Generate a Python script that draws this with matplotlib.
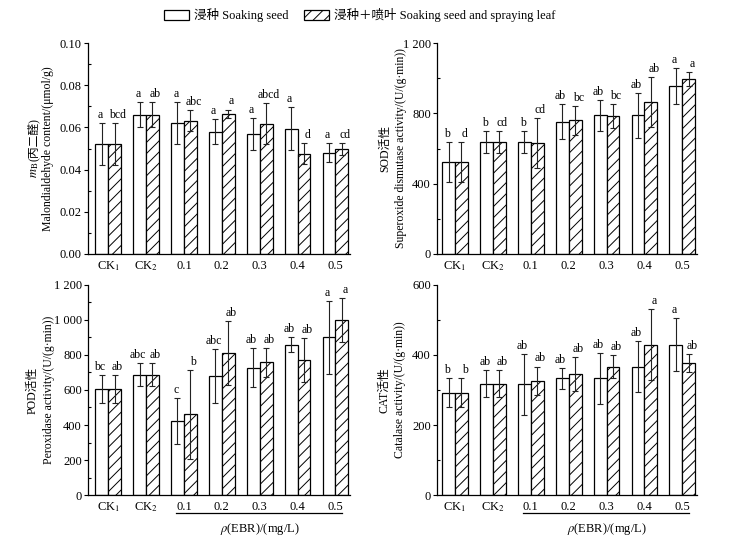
import matplotlib
matplotlib.use("Agg")
import matplotlib.pyplot as plt
import matplotlib.transforms as mtransforms
from matplotlib.ticker import MultipleLocator, FuncFormatter
import numpy as np

plt.rcParams['font.family'] = ['Liberation Serif', 'Noto Sans CJK SC', 'DejaVu Sans']
plt.rcParams['mathtext.fontset'] = 'stix'
plt.rcParams['hatch.linewidth'] = 0.7
plt.rcParams['axes.unicode_minus'] = False

groups = ['CK$_1$', 'CK$_2$', '0.1', '0.2', '0.3', '0.4', '0.5']

mda_soak = [0.052, 0.066, 0.062, 0.058, 0.057, 0.0595, 0.048]
mda_soak_err = [0.010, 0.006, 0.010, 0.006, 0.0075, 0.010, 0.0046]
mda_spray = [0.052, 0.066, 0.0633, 0.0665, 0.0617, 0.0475, 0.0497]
mda_spray_err = [0.010, 0.006, 0.005, 0.002, 0.0097, 0.005, 0.0028]
mda_soak_let = ['a', 'a', 'a', 'a', 'a', 'a', 'a']
mda_spray_let = ['bcd', 'ab', 'abc', 'a', 'abcd', 'd', 'cd']

sod_soak = [523, 637, 637, 754, 789, 789, 957]
sod_soak_err = [114, 63, 63, 97, 89, 129, 103]
sod_spray = [523, 637, 631, 760, 783, 865, 995]
sod_spray_err = [114, 63, 144, 82, 68, 143, 40]
sod_soak_let = ['b', 'b', 'b', 'ab', 'ab', 'ab', 'a']
sod_spray_let = ['d', 'cd', 'cd', 'bc', 'bc', 'ab', 'a']

pod_soak = [606, 688, 421, 678, 728, 859, 901]
pod_soak_err = [82, 68, 131, 154, 112, 44, 209]
pod_spray = [606, 688, 461, 811, 758, 771, 1000]
pod_spray_err = [82, 68, 255, 181, 82, 128, 128]
pod_soak_let = ['bc', 'abc', 'c', 'abc', 'ab', 'ab', 'a']
pod_spray_let = ['ab', 'ab', 'b', 'ab', 'ab', 'ab', 'a']

cat_soak = [292, 318, 316, 333, 333, 367, 429]
cat_soak_err = [41, 38, 88, 29, 73, 73, 76]
cat_spray = [292, 318, 326, 345, 367, 429, 376]
cat_spray_err = [41, 38, 41, 49, 33, 101, 26]
cat_soak_let = ['b', 'ab', 'ab', 'ab', 'ab', 'ab', 'a']
cat_spray_let = ['b', 'ab', 'ab', 'ab', 'ab', 'a', 'ab']

legend_labels = ['浸种 Soaking seed', '浸种＋喷叶 Soaking seed and spraying leaf']
xlabel_text = r'$\rho$(EBR)/(mg/L)'
mda_label_sym = r'$m_\mathrm{B}$'
mda_label_cn = '(丙二醛)'

fig = plt.figure(figsize=(7.34, 5.42), dpi=100)

W = 0.34
FS = 9
LFS = 8.5
YFS = 8.5

def space_fmt(dec):
    def f(v, pos):
        if dec > 0:
            return f'{v:.{dec}f}'
        return f'{int(round(v)):,}'.replace(',', ' ')
    return FuncFormatter(f)

def panel(rect, soak, soak_err, spray, spray_err, soak_let, spray_let,
          ylim, major, minor, dec, ylab, xlim_left, show_xlabel, labelpad):
    ax = fig.add_axes(rect)
    x = np.arange(len(groups))
    b1 = ax.bar(x - W/2, soak, W, color='white', edgecolor='black', linewidth=0.9, zorder=2)
    b2 = ax.bar(x + W/2, spray, W, color='white', edgecolor='black', linewidth=0.9,
                hatch='///', zorder=2)
    ax.errorbar(x - W/2, soak, yerr=soak_err, fmt='none', ecolor='#222222',
                elinewidth=0.8, capsize=2.5, capthick=0.8, zorder=3)
    ax.errorbar(x + W/2, spray, yerr=spray_err, fmt='none', ecolor='#222222',
                elinewidth=0.8, capsize=2.5, capthick=0.8, zorder=3)
    for xi, v, e, t in zip(x - W/2, soak, soak_err, soak_let):
        ax.annotate(t, (xi, v + e), xytext=(-1.2, 1.5), textcoords='offset points',
                    ha='center', va='bottom', fontsize=LFS)
    for xi, v, e, t in zip(x + W/2, spray, spray_err, spray_let):
        ax.annotate(t, (xi, v + e), xytext=(2.2, 1.5), textcoords='offset points',
                    ha='center', va='bottom', fontsize=LFS)
    ax.set_xlim(xlim_left, 6.385)
    ax.set_ylim(*ylim)
    ax.set_xticks(x)
    ax.set_xticklabels(groups, fontsize=FS)
    ax.tick_params(axis='x', length=0, pad=4)
    ax.yaxis.set_major_locator(MultipleLocator(major))
    ax.yaxis.set_minor_locator(MultipleLocator(minor))
    ax.yaxis.set_major_formatter(space_fmt(dec))
    ax.tick_params(axis='y', which='major', direction='out', length=3, width=0.8,
                   labelsize=FS, pad=1.5)
    ax.tick_params(axis='y', which='minor', direction='in', length=2, width=0.8)
    for s in ['top', 'right']:
        ax.spines[s].set_visible(False)
    for s in ['left', 'bottom']:
        ax.spines[s].set_linewidth(0.9)
    ax.set_ylabel(ylab, fontsize=YFS, linespacing=1.45, labelpad=labelpad)
    if show_xlabel:
        trans = mtransforms.blended_transform_factory(ax.transData, ax.transAxes)
        ax.plot([2 - 0.21, 6 + 0.18], [-0.086, -0.086], color='black', lw=0.9,
                transform=trans, clip_on=False)
        ax.text(4, -0.125, xlabel_text, transform=trans, ha='center', va='top',
                fontsize=FS)
    return ax, b1, b2

ax1, b1, b2 = panel([0.1199, 0.5314, 0.357, 0.389], mda_soak, mda_soak_err, mda_spray,
                    mda_spray_err, mda_soak_let, mda_spray_let, (0, 0.10), 0.02, 0.01, 2,
                    'Malondialdehyde content/(μmol/g)', -0.53, False, 4)
panel([0.5954, 0.5314, 0.354, 0.389], sod_soak, sod_soak_err, sod_spray, sod_spray_err,
      sod_soak_let, sod_spray_let, (0, 1200), 400, 200, 0,
      'SOD活性\nSuperoxide dismutase activity/(U/(g·min))', -0.475, False, -3)
panel([0.1199, 0.0867, 0.357, 0.3875], pod_soak, pod_soak_err, pod_spray, pod_spray_err,
      pod_soak_let, pod_spray_let, (0, 1200), 200, 100, 0,
      'POD活性\nPeroxidase activity/(U/(g·min))', -0.53, True, -1)
panel([0.5954, 0.0867, 0.354, 0.3875], cat_soak, cat_soak_err, cat_spray, cat_spray_err,
      cat_soak_let, cat_spray_let, (0, 600), 200, 100, 0,
      'CAT活性\nCatalase activity/(U/(g·min))', -0.475, True, 4)

fig.legend([b1, b2], legend_labels, loc='center', bbox_to_anchor=(0.49, 0.972), ncol=2,
           frameon=False, fontsize=FS, handlelength=2.0, handleheight=0.8,
           columnspacing=1.2, handletextpad=0.4)

# first line of MDA y-label: math symbol + Chinese text, laid out side by side
fig.canvas.draw()
renderer = fig.canvas.get_renderer()
lb = ax1.yaxis.label.get_window_extent(renderer)
axb = ax1.get_window_extent(renderer)
xc = (lb.x0 + lb.x1) / 2 - 15
ident = mtransforms.IdentityTransform()
t1 = fig.text(0, 0, mda_label_sym, rotation=90, fontsize=YFS + 0.5, transform=ident,
              rotation_mode='anchor', ha='left', va='baseline')
t2 = fig.text(0, 0, mda_label_cn, rotation=90, fontsize=YFS, transform=ident,
              rotation_mode='anchor', ha='left', va='baseline')
h1 = t1.get_window_extent(renderer).height
h2 = t2.get_window_extent(renderer).height
yc = (axb.y0 + axb.y1) / 2
y0 = yc - (h1 + h2) / 2
xb = xc + 4
t1.set_position((xb, y0))
t2.set_position((xb, y0 + h1 + 0.5))

fig.savefig('out.png', dpi=100)
